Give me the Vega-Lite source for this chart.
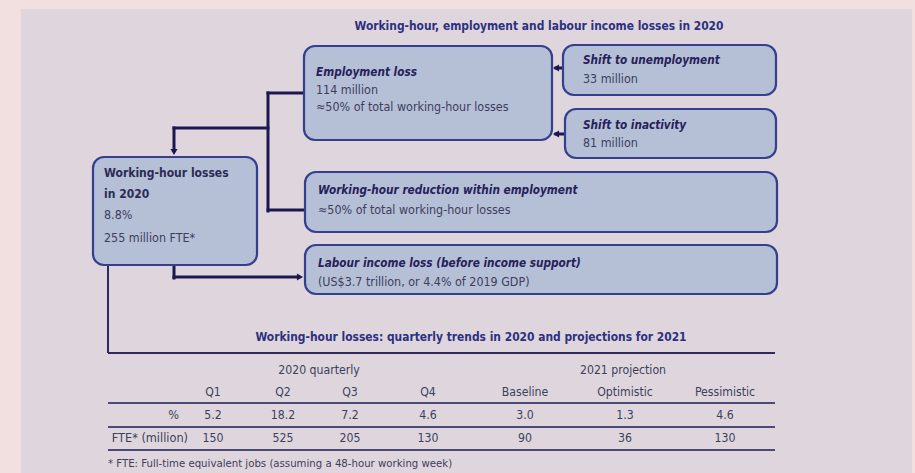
{
  "$schema": "https://vega.github.io/schema/vega-lite/v6.json",
  "width": 915,
  "height": 473,
  "autosize": {"type": "fit", "contains": "padding"},
  "padding": 0,
  "background": "#f2dfdf",
  "config": {"view": {"stroke": null}, "font": "DejaVu Sans Condensed, Open Sans, sans-serif"},
  "datasets": {
    "panel": [{"x": 21, "x2": 912, "y": 9, "y2": 473}],
    "boxes": [
      {"id": "employment", "x": 304, "x2": 552, "y": 46, "y2": 140},
      {"id": "unemployment", "x": 563, "x2": 776, "y": 45, "y2": 95},
      {"id": "inactivity", "x": 565, "x2": 776, "y": 109, "y2": 158},
      {"id": "whl", "x": 93, "x2": 257, "y": 157, "y2": 265},
      {"id": "reduction", "x": 305, "x2": 777, "y": 172, "y2": 232},
      {"id": "income", "x": 305, "x2": 777, "y": 245, "y2": 294}
    ],
    "links": [
      {"kind": "thick", "x": 304, "x2": 268, "y": 93, "y2": 93},
      {"kind": "thick", "x": 268, "x2": 268, "y": 93, "y2": 211},
      {"kind": "thick", "x": 268, "x2": 305, "y": 210, "y2": 210},
      {"kind": "thick", "x": 268, "x2": 174, "y": 128, "y2": 128},
      {"kind": "thick", "x": 174, "x2": 174, "y": 128, "y2": 150},
      {"kind": "thick", "x": 563, "x2": 556, "y": 68, "y2": 68},
      {"kind": "thick", "x": 565, "x2": 556, "y": 134, "y2": 134},
      {"kind": "thick", "x": 174, "x2": 174, "y": 265, "y2": 278},
      {"kind": "thick", "x": 174, "x2": 298, "y": 277, "y2": 277},
      {"kind": "thin", "x": 108, "x2": 108, "y": 265, "y2": 353},
      {"kind": "thin", "x": 108, "x2": 775, "y": 353, "y2": 353},
      {"kind": "table", "x": 108, "x2": 775, "y": 403, "y2": 403},
      {"kind": "table", "x": 108, "x2": 775, "y": 427, "y2": 427},
      {"kind": "table", "x": 108, "x2": 775, "y": 450, "y2": 450}
    ],
    "arrows": [
      {"dir": "down", "x": 174, "y": 152},
      {"dir": "left", "x": 556, "y": 68},
      {"dir": "left", "x": 556, "y": 134},
      {"dir": "right", "x": 300, "y": 277}
    ],
    "texts": [
      {"kind": "title", "text": "Working-hour, employment and labour income losses in 2020", "x": 539, "y": 26},
      {"kind": "title", "text": "Working-hour losses: quarterly trends in 2020 and projections for 2021", "x": 471, "y": 337},
      {"kind": "head", "text": "Employment loss", "x": 316, "y": 72},
      {"kind": "body", "text": "114 million", "x": 316, "y": 90},
      {"kind": "body", "text": "≈50% of total working-hour losses", "x": 316, "y": 107},
      {"kind": "head", "text": "Shift to unemployment", "x": 583, "y": 60},
      {"kind": "body", "text": "33 million", "x": 583, "y": 79},
      {"kind": "head", "text": "Shift to inactivity", "x": 583, "y": 125},
      {"kind": "body", "text": "81 million", "x": 583, "y": 143},
      {"kind": "bold", "text": "Working-hour losses", "x": 104, "y": 173},
      {"kind": "bold", "text": "in 2020", "x": 104, "y": 194},
      {"kind": "body", "text": "8.8%", "x": 104, "y": 215},
      {"kind": "body", "text": "255 million FTE*", "x": 104, "y": 238},
      {"kind": "head", "text": "Working-hour reduction within employment", "x": 318, "y": 190},
      {"kind": "body", "text": "≈50% of total working-hour losses", "x": 318, "y": 210},
      {"kind": "head", "text": "Labour income loss (before income support)", "x": 318, "y": 263},
      {"kind": "body", "text": "(US$3.7 trillion, or 4.4% of 2019 GDP)", "x": 318, "y": 282},
      {"kind": "cell", "text": "2020 quarterly", "x": 319, "y": 370},
      {"kind": "cell", "text": "2021 projection", "x": 623, "y": 370},
      {"kind": "cell", "text": "Q1", "x": 213, "y": 392},
      {"kind": "cell", "text": "Q2", "x": 283, "y": 392},
      {"kind": "cell", "text": "Q3", "x": 350, "y": 392},
      {"kind": "cell", "text": "Q4", "x": 428, "y": 392},
      {"kind": "cell", "text": "Baseline", "x": 525, "y": 392},
      {"kind": "cell", "text": "Optimistic", "x": 625, "y": 392},
      {"kind": "cell", "text": "Pessimistic", "x": 725, "y": 392},
      {"kind": "rowlabel", "text": "%", "x": 179, "y": 415},
      {"kind": "cell", "text": "5.2", "x": 213, "y": 415},
      {"kind": "cell", "text": "18.2", "x": 283, "y": 415},
      {"kind": "cell", "text": "7.2", "x": 350, "y": 415},
      {"kind": "cell", "text": "4.6", "x": 428, "y": 415},
      {"kind": "cell", "text": "3.0", "x": 525, "y": 415},
      {"kind": "cell", "text": "1.3", "x": 625, "y": 415},
      {"kind": "cell", "text": "4.6", "x": 725, "y": 415},
      {"kind": "rowlabel", "text": "FTE* (million)", "x": 188, "y": 438},
      {"kind": "cell", "text": "150", "x": 213, "y": 438},
      {"kind": "cell", "text": "525", "x": 283, "y": 438},
      {"kind": "cell", "text": "205", "x": 350, "y": 438},
      {"kind": "cell", "text": "130", "x": 428, "y": 438},
      {"kind": "cell", "text": "90", "x": 525, "y": 438},
      {"kind": "cell", "text": "36", "x": 625, "y": 438},
      {"kind": "cell", "text": "130", "x": 725, "y": 438},
      {"kind": "foot", "text": "* FTE: Full-time equivalent jobs (assuming a 48-hour working week)", "x": 108, "y": 464}
    ]
  },
  "encoding": {
    "x": {"field": "x", "type": "quantitative", "scale": {"domain": [0, 915], "nice": false, "zero": false}, "axis": null},
    "y": {"field": "y", "type": "quantitative", "scale": {"domain": [0, 473], "nice": false, "zero": false, "reverse": true}, "axis": null}
  },
  "layer": [
    {
      "data": {"name": "panel"},
      "mark": {"type": "rect", "fill": "#ded6dc"},
      "encoding": {"x2": {"field": "x2"}, "y2": {"field": "y2"}}
    },
    {
      "data": {"name": "links"},
      "transform": [{"filter": "datum.kind === 'thick'"}],
      "mark": {"type": "rule", "color": "#1e1650", "strokeWidth": 3, "strokeCap": "square"},
      "encoding": {"x2": {"field": "x2"}, "y2": {"field": "y2"}}
    },
    {
      "data": {"name": "links"},
      "transform": [{"filter": "datum.kind === 'thin'"}],
      "mark": {"type": "rule", "color": "#2e2a5e", "strokeWidth": 2},
      "encoding": {"x2": {"field": "x2"}, "y2": {"field": "y2"}}
    },
    {
      "data": {"name": "links"},
      "transform": [{"filter": "datum.kind === 'table'"}],
      "mark": {"type": "rule", "color": "#4d4a78", "strokeWidth": 2},
      "encoding": {"x2": {"field": "x2"}, "y2": {"field": "y2"}}
    },
    {
      "data": {"name": "boxes"},
      "mark": {"type": "rect", "fill": "#b5bfd6", "stroke": "#34408e", "strokeWidth": 2.2, "cornerRadius": 11},
      "encoding": {"x2": {"field": "x2"}, "y2": {"field": "y2"}}
    },
    {
      "data": {"name": "arrows"},
      "mark": {"type": "point", "filled": true, "color": "#1e1650", "size": 50, "opacity": 1},
      "encoding": {
        "shape": {"field": "dir", "type": "nominal", "scale": {"domain": ["down", "left", "right"], "range": ["triangle-down", "triangle-left", "triangle-right"]}, "legend": null}
      }
    },
    {
      "data": {"name": "texts"},
      "transform": [{"filter": "datum.kind === 'title'"}],
      "mark": {"type": "text", "align": "center", "baseline": "middle", "fontSize": 11.9, "fontWeight": "bold", "color": "#2d3080"},
      "encoding": {"text": {"field": "text"}}
    },
    {
      "data": {"name": "texts"},
      "transform": [{"filter": "datum.kind === 'head'"}],
      "mark": {"type": "text", "align": "left", "baseline": "middle", "fontSize": 11.7, "fontWeight": "bold", "fontStyle": "italic", "color": "#26215a"},
      "encoding": {"text": {"field": "text"}}
    },
    {
      "data": {"name": "texts"},
      "transform": [{"filter": "datum.kind === 'bold'"}],
      "mark": {"type": "text", "align": "left", "baseline": "middle", "fontSize": 12, "fontWeight": "bold", "color": "#2c2b55"},
      "encoding": {"text": {"field": "text"}}
    },
    {
      "data": {"name": "texts"},
      "transform": [{"filter": "datum.kind === 'body'"}],
      "mark": {"type": "text", "align": "left", "baseline": "middle", "fontSize": 12.4, "color": "#3d3e5c"},
      "encoding": {"text": {"field": "text"}}
    },
    {
      "data": {"name": "texts"},
      "transform": [{"filter": "datum.kind === 'cell'"}],
      "mark": {"type": "text", "align": "center", "baseline": "middle", "fontSize": 12.2, "color": "#3d3e5c"},
      "encoding": {"text": {"field": "text"}}
    },
    {
      "data": {"name": "texts"},
      "transform": [{"filter": "datum.kind === 'rowlabel'"}],
      "mark": {"type": "text", "align": "right", "baseline": "middle", "fontSize": 12.6, "color": "#3d3e5c"},
      "encoding": {"text": {"field": "text"}}
    },
    {
      "data": {"name": "texts"},
      "transform": [{"filter": "datum.kind === 'foot'"}],
      "mark": {"type": "text", "align": "left", "baseline": "middle", "fontSize": 11.3, "color": "#3d3e5c"},
      "encoding": {"text": {"field": "text"}}
    }
  ]
}
